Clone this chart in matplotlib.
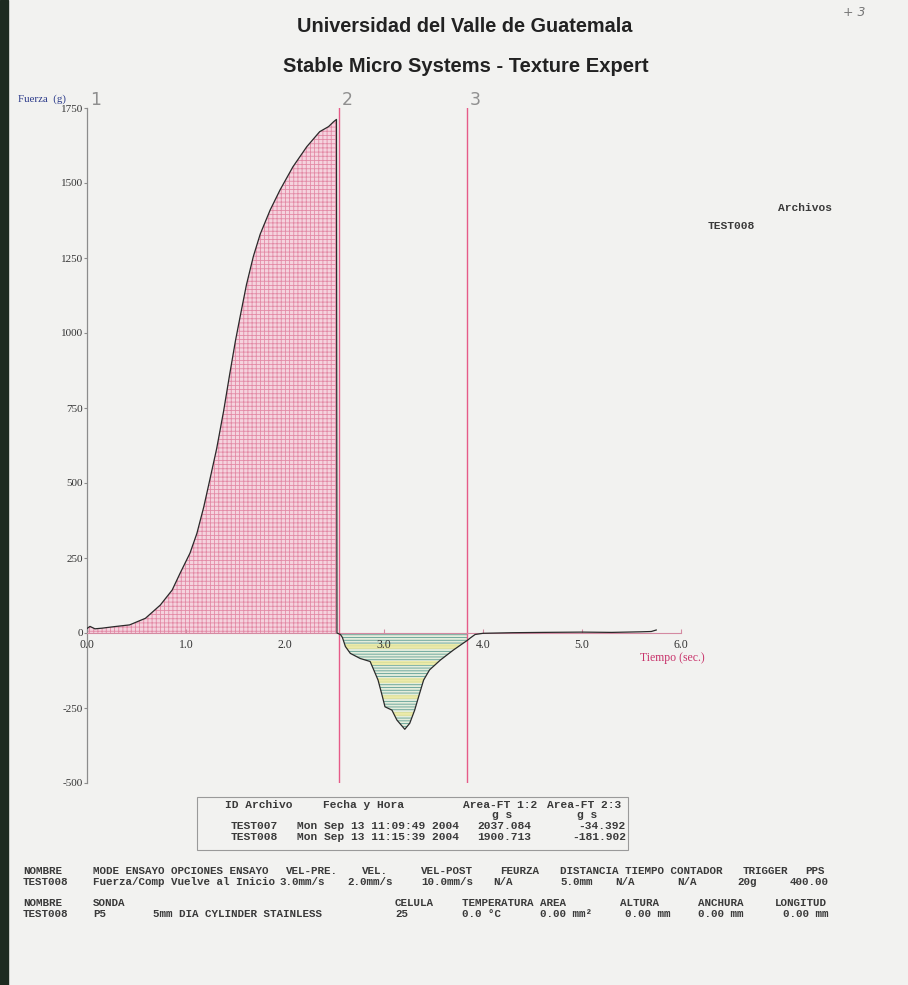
import numpy as np
import matplotlib
matplotlib.use("Agg")
from matplotlib import pyplot as plt
from matplotlib.patches import Rectangle

# ---- data ----
time_s = [0.0, 0.03, 0.08, 0.15, 0.27, 0.43, 0.59, 0.74, 0.86, 0.94, 1.04, 1.11,
          1.18, 1.24, 1.31, 1.38, 1.44, 1.50, 1.55, 1.61, 1.68, 1.75, 1.85, 1.95,
          2.08, 2.22, 2.35, 2.44, 2.49, 2.52, 2.525, 2.56, 2.58, 2.61, 2.66, 2.76,
          2.81, 2.86, 2.89, 2.94, 2.98, 3.01, 3.08, 3.13, 3.21, 3.26, 3.31, 3.35,
          3.40, 3.46, 3.57, 3.70, 3.80, 3.84, 3.87, 3.92, 4.0, 4.3, 4.6, 5.0, 5.3,
          5.6, 5.7, 5.75]
force_g = [15, 22, 14, 16, 21, 27, 49, 93, 143, 199, 266, 332,
           421, 510, 615, 740, 860, 975, 1060, 1160, 1255, 1330, 1410, 1477,
           1554, 1621, 1671, 1688, 1704, 1712, 0, -5, -15, -45, -68, -85,
           -90, -95, -118, -157, -207, -246, -257, -290, -321, -301, -257, -212,
           -157, -123, -90, -57, -34, -25, -17, -5, -1, 1, 2, 3, 2,
           4, 5, 10]

anchors = [0.0, 2.545, 3.835]          # markers 1, 2, 3
anchor_labels = ["1", "2", "3"]
x_ticks = [0.0, 1.0, 2.0, 3.0, 4.0, 5.0, 6.0]
y_ticks = [1750, 1500, 1250, 1000, 750, 500, 250, 0, -250, -500]
yellow_bands = [-45, -100, -157, -213, -270]   # centres of the yellow stripes

table_head = ["ID Archivo", "Fecha y Hora", "Area-FT 1:2", "Area-FT 2:3"]
table_ids = ["TEST007", "TEST008"]
table_dates = ["Mon Sep 13 11:09:49 2004", "Mon Sep 13 11:15:39 2004"]
area_12 = ["2037.084", "1900.713"]
area_23 = ["-34.392", "-181.902"]

footer_rows = [
    (871, [(23, "NOMBRE"), (93, "MODE ENSAYO OPCIONES ENSAYO"), (286, "VEL-PRE."),
           (362, "VEL."), (421, "VEL-POST"), (500, "FEURZA"),
           (560, "DISTANCIA TIEMPO CONTADOR"), (743, "TRIGGER"), (805, "PPS")]),
    (882, [(23, "TEST008"), (93, "Fuerza/Comp Vuelve al Inicio"), (279, "3.0mm/s"),
           (347, "2.0mm/s"), (421, "10.0mm/s"), (493, "N/A"), (560, "5.0mm"),
           (615, "N/A"), (677, "N/A"), (737, "20g"), (790, "400.00")]),
    (903, [(23, "NOMBRE"), (93, "SONDA"), (395, "CELULA"), (462, "TEMPERATURA AREA"),
           (620, "ALTURA"), (698, "ANCHURA"), (775, "LONGITUD")]),
    (914, [(23, "TEST008"), (93, "P5"), (153, "5mm DIA CYLINDER STAINLESS"), (395, "25"),
           (462, "0.0 °C"), (540, "0.00 mm²"), (625, "0.00 mm"), (698, "0.00 mm"),
           (783, "0.00 mm")]),
]

W, H = 908, 985
PINK = "#e65b88"
MONO = dict(family="Liberation Mono", fontsize=8.1, fontweight="bold", color="#3a3a3a")
SERIF = dict(family="Liberation Serif", color="#333333")


def px(x, y):
    return x / W, 1 - y / H


plt.rcParams["hatch.linewidth"] = 0.6
fig = plt.figure(figsize=(W / 100, H / 100), dpi=100, facecolor="#f2f2f0")
fig.patches.append(Rectangle((0, 0), 8 / W, 1, transform=fig.transFigure,
                             color="#1d2a20", zorder=0))

l, t = px(87, 108)
r, b = px(681, 783)
ax = fig.add_axes([l, b, r - l, t - b])
ax.set_facecolor("none")

t_arr = np.array(time_s)
f_arr = np.array(force_g)

ax.fill_between(t_arr, f_arr, 0, where=t_arr <= 2.52, facecolor="#f5d3de",
                edgecolor="#e38aa6", hatch="++++", linewidth=0, zorder=1)
neg = ax.fill_between(t_arr, f_arr, 0, where=(t_arr >= 2.525) & (t_arr <= 3.84),
                      facecolor="#e4eddc", edgecolor="#5f9f94", hatch="------",
                      linewidth=0, zorder=1)
clip = neg.get_paths()[0]
for c in yellow_bands:
    band = ax.axhspan(c - 8, c + 8, color="#eeeaa0", alpha=0.85, lw=0, zorder=1.5)
    band.set_clip_path(clip, ax.transData)

ax.plot(t_arr, f_arr, color="#2a2a2a", lw=0.9, zorder=3)

for a, lab in zip(anchors, anchor_labels):
    if a > 0:
        ax.axvline(a, color=PINK, lw=1.0, zorder=2)
    ax.text(a + 0.03, 0.998, lab, transform=ax.get_xaxis_transform(),
            family="DejaVu Sans", fontsize=12.5, color="#8f8f8f", va="bottom", ha="left")

ax.set_xlim(0, 6)
ax.set_ylim(-500, 1750)
for s in ["top", "right"]:
    ax.spines[s].set_visible(False)
ax.spines["bottom"].set_position(("data", 0))
ax.spines["bottom"].set_color("#d48aa2")
ax.spines["left"].set_color("#8c8c8c")
ax.spines["left"].set_linewidth(0.9)

ax.set_xticks(x_ticks)
ax.set_xticklabels([f"{v:.1f}" for v in x_ticks], **SERIF, fontsize=8.5)
ax.set_yticks(y_ticks)
ax.set_yticklabels([str(v) for v in y_ticks], **SERIF, fontsize=8)
ax.tick_params(axis="x", direction="in", length=3, color="#d48aa2", pad=4)
ax.tick_params(axis="y", direction="out", length=2, color="#8c8c8c", pad=1)

# axis captions
fig.text(*px(18, 99), "Fuerza  (g)", **{**SERIF, "color": "#2b3a8a"}, fontsize=7.8,
         va="center")
fig.text(*px(640, 658), "Tiempo (sec.)", family="Liberation Serif", color="#c8336b",
         fontsize=8.5, va="center")

# titles
fig.text(*px(465, 27), "Universidad del Valle de Guatemala", family="Liberation Sans",
         fontweight="bold", fontsize=14.3, color="#222222", ha="center", va="center")
fig.text(*px(466, 67), "Stable Micro Systems - Texture Expert", family="Liberation Sans",
         fontweight="bold", fontsize=14.5, color="#222222", ha="center", va="center")
fig.text(*px(843, 12), "+ 3", family="DejaVu Sans", fontsize=9, color="#777777",
         va="center", style="italic")

# file legend
fig.text(*px(778, 208), "Archivos", **MONO, va="center")
fig.text(*px(708, 226), "TEST008", **MONO, va="center")

# result table
fig.patches.append(Rectangle(px(197, 850), (628 - 197) / W, (850 - 797) / H,
                             transform=fig.transFigure, fill=False,
                             edgecolor="#9a9a9a", lw=0.8))
for x, s in zip([225, 323, 463, 547], table_head):
    fig.text(*px(x, 805), s, **MONO, va="center")
fig.text(*px(492, 815), "g s", **MONO, va="center")
fig.text(*px(577, 815), "g s", **MONO, va="center")
for i, yy in enumerate([826, 837]):
    fig.text(*px(231, yy), table_ids[i], **MONO, va="center")
    fig.text(*px(297, yy), table_dates[i], **MONO, va="center")
    fig.text(*px(531, yy), area_12[i], **MONO, va="center", ha="right")
    fig.text(*px(626, yy), area_23[i], **MONO, va="center", ha="right")

# test parameters footer
for yy, items in footer_rows:
    for x, s in items:
        fig.text(*px(x, yy), s, **{**MONO, "fontsize": 7.8}, va="center")

fig.savefig("out.png", dpi=100, facecolor=fig.get_facecolor())
